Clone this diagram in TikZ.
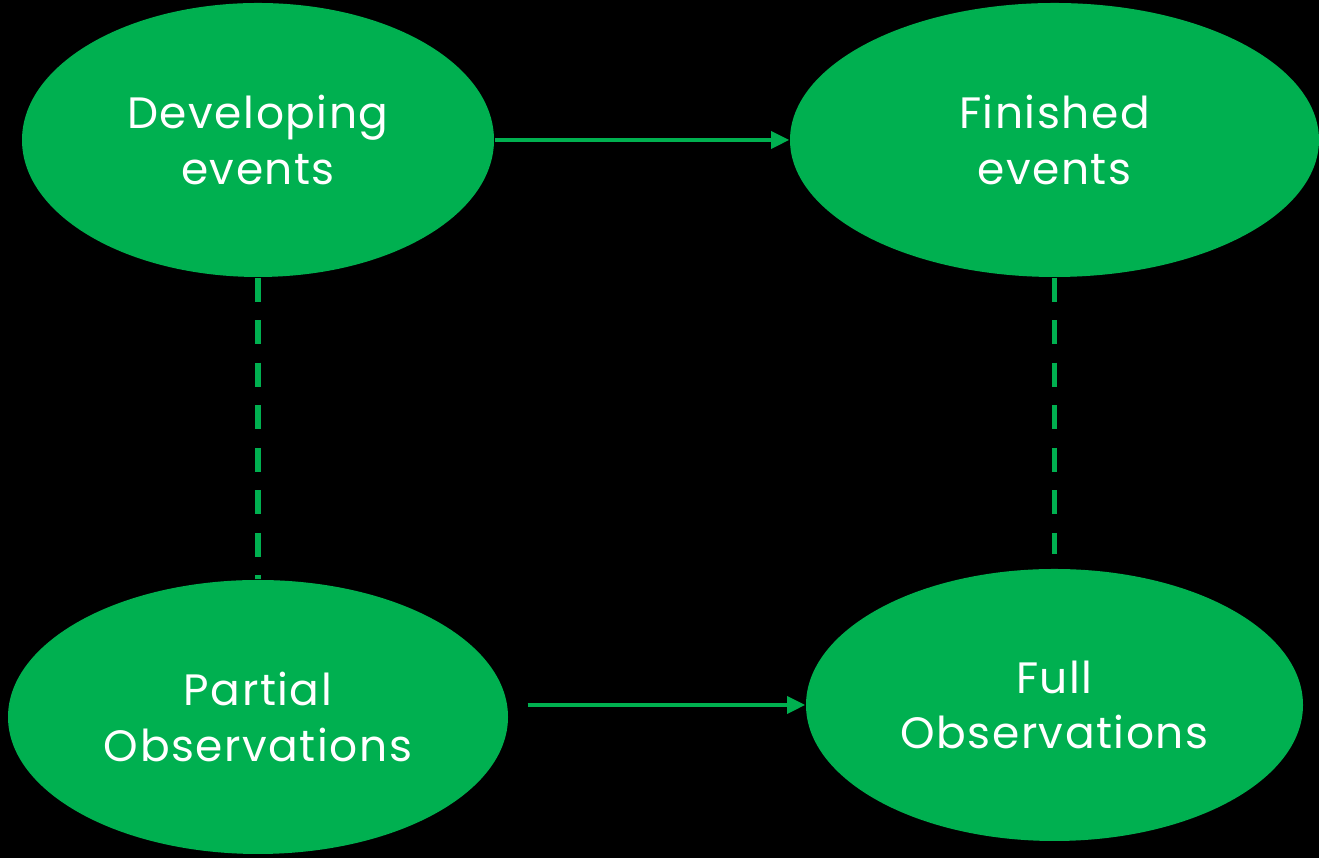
\documentclass[tikz,border=0pt]{standalone}
\usepackage{fontspec}
\setmainfont{Poppins}[LetterSpace=3.5]
\usetikzlibrary{arrows.meta,calc,positioning,shapes.geometric}
\definecolor{eventgreen}{RGB}{0,176,80}

\begin{document}
\begin{tikzpicture}[>={Triangle[length=5.2pt,width=4.8pt]},
    stage/.style={ellipse, fill=eventgreen, inner sep=0pt,
      minimum height=2.74cm, text=white, align=center,
      font=\fontsize{12.5}{15.9}\selectfont},
    flow/.style={->, eventgreen, line width=1.15pt},
    link/.style={eventgreen, line width=1.7pt, dash pattern=on 6.8pt off 5.3pt}]

  % Tło
  \fill[black] (0,0) rectangle (13.19,8.58);
  \useasboundingbox (0,0) rectangle (13.19,8.58);

  %-------------------- events --------------------
  \node[stage, minimum width=4.72cm] (dev) at (2.58,7.18) {Developing\\events};
  \node[stage, minimum width=5.29cm] (fin) at (10.545,7.18) {Finished\\events};

  %-------------------- observations --------------------
  \node[stage, minimum width=5.0cm]  (par) at (2.58,1.41) {Partial\\Observations};
  \node[stage, minimum width=4.97cm, minimum height=2.72cm]
    (ful) at (10.545,1.53) {Full\\Observations};

  % Strzałki
  \draw[flow] (dev.east) -- (fin.west);
  \coordinate (pout) at ($(par.east |- ful.west)+(0.19,0)$);
  \draw[flow] (pout) -- (ful.west);

  % Linie przerywane
  \draw[link] (dev.south) -- (par.north);
  \coordinate (fend) at ($(ful.north)+(0,0.14)$);
  \draw[link] (fin.south) -- (fend);

\end{tikzpicture}
\end{document}
